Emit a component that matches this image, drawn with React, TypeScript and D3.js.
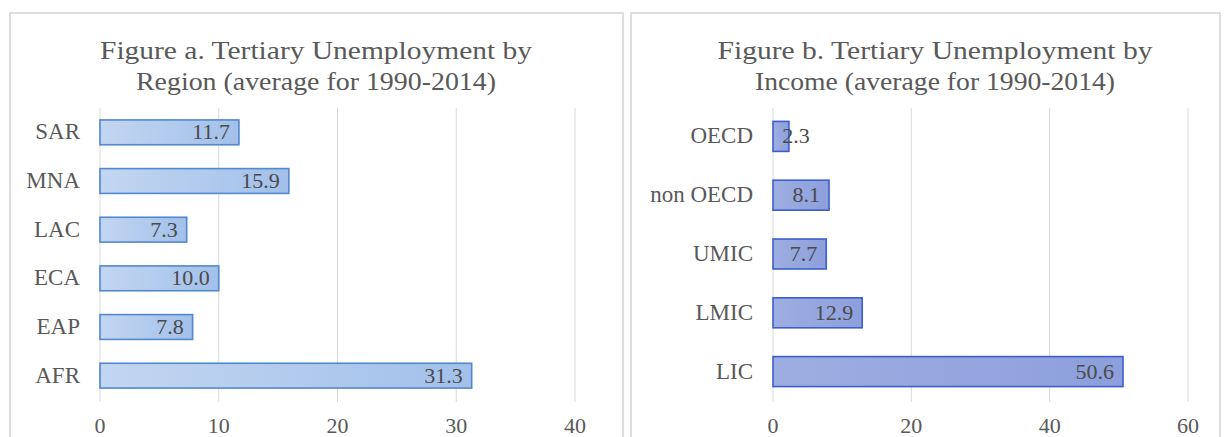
import React from "react";
import * as d3 from "d3";

const regionCats = ["SAR", "MNA", "LAC", "ECA", "EAP", "AFR"];
const regionVals = [11.7, 15.9, 7.3, 10.0, 7.8, 31.3];
const regionTicks = [0, 10, 20, 30, 40];
const regionTitle = ["Figure a. Tertiary Unemployment by", "Region (average for 1990-2014)"];

const incomeCats = ["OECD", "non OECD", "UMIC", "LMIC", "LIC"];
const incomeVals = [2.3, 8.1, 7.7, 12.9, 50.6];
const incomeTicks = [0, 20, 40, 60];
const incomeTitle = ["Figure b. Tertiary Unemployment by", "Income (average for 1990-2014)"];

const FONT = "'Liberation Serif', 'Times New Roman', serif";

type PanelProps = {
  id: string;
  px0: number;
  px1: number;
  titleX: number;
  titleLens: number[];
  title: string[];
  cats: string[];
  vals: number[];
  ticks: number[];
  x0: number;
  x1: number;
  yTop: number;
  yBot: number;
  fillA: string;
  fillB: string;
  stroke: string;
};

function Panel(p: PanelProps) {
  const max = p.ticks[p.ticks.length - 1];
  const x = d3.scaleLinear().domain([0, max]).range([p.x0, p.x1]);
  const y = d3.scaleBand<string>().domain(p.cats).range([p.yTop, p.yBot]).paddingInner(0.49).paddingOuter(0.245);
  const fmt = d3.format(".1f");
  const fs = 22;
  return (
    <g>
      <defs>
        <linearGradient id={p.id + "g"} x1="0" y1="0" x2="1" y2="0">
          <stop offset="0" stopColor={p.fillA} />
          <stop offset="1" stopColor={p.fillB} />
        </linearGradient>
      </defs>
      <rect x={p.px0} y={13} width={p.px1 - p.px0} height={440} fill="#fff" stroke="#d4d4d4" strokeWidth={1.5} />
      {p.title.map((t, i) => (
        <text key={i} x={p.titleX} y={59 + i * 31} textAnchor="middle" fontFamily={FONT} fontSize={26}
          fill="#595959" textLength={p.titleLens[i]} lengthAdjust="spacingAndGlyphs">{t}</text>
      ))}
      {p.ticks.map((t) => (
        <g key={t}>
          {t > 0 && <line x1={x(t)} x2={x(t)} y1={108} y2={402} stroke="#d9d9d9" strokeWidth={1} />}
          <text x={x(t)} y={433} textAnchor="middle" fontFamily={FONT} fontSize={fs} fill="#595959">{t}</text>
        </g>
      ))}
      <line x1={x(0)} x2={x(0)} y1={108} y2={402} stroke="#d9d9d9" strokeWidth={1} />
      {p.cats.map((c, i) => {
        const by = y(c)!;
        const bh = y.bandwidth();
        const v = p.vals[i];
        const label = fmt(v);
        const tw = label.length * fs * 0.42;
        const tx = Math.max(x(v) - 9, x(0) + 9 + tw);
        return (
          <g key={c}>
            <text x={p.x0 - 20} y={by + bh / 2 + 7} textAnchor="end" fontFamily={FONT} fontSize={fs + 1} fill="#595959">{c}</text>
            <rect x={x(0)} y={by} width={x(v) - x(0)} height={bh} fill={`url(#${p.id}g)`} stroke={p.stroke} strokeWidth={1.6} />
            <text x={tx} y={by + bh / 2 + 7} textAnchor="end" fontFamily={FONT} fontSize={fs} fill="#4a4a4a">{label}</text>
          </g>
        );
      })}
    </g>
  );
}

export default function App() {
  return (
    <svg width={1225} height={437} style={{ position: "absolute", left: 0, top: 0, background: "#fff" }}>
      <Panel id="a" px0={10} px1={623} titleX={316} titleLens={[432, 360]} title={regionTitle}
        cats={regionCats} vals={regionVals} ticks={regionTicks} x0={100} x1={575} yTop={108} yBot={400}
        fillA="#c3d6f1" fillB="#a2c0ea" stroke="#5288cc" />
      <Panel id="b" px0={631} px1={1220} titleX={935} titleLens={[435, 360]} title={incomeTitle}
        cats={incomeCats} vals={incomeVals} ticks={incomeTicks} x0={773} x1={1188} yTop={107} yBot={401}
        fillA="#9eaee2" fillB="#8d9fdc" stroke="#3c5fcc" />
    </svg>
  );
}
